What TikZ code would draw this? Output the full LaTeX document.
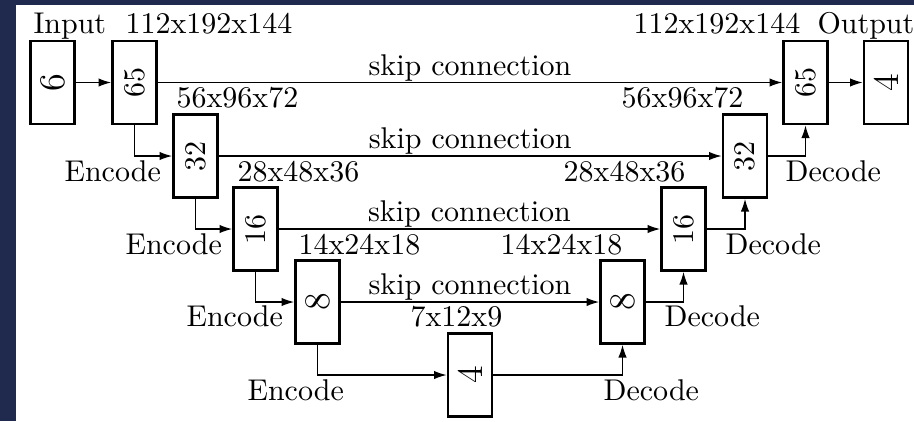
\documentclass[tikz,border=0pt]{standalone}
\usepackage{graphicx}
\usetikzlibrary{arrows.meta}
\definecolor{framebg}{HTML}{1F2A4E}
\begin{document}
\begin{tikzpicture}[x=0.33333pt,y=-0.33333pt,
  blk/.style={draw,line width=0.9pt,minimum width=14.7pt,minimum height=27.7pt,inner sep=0pt,fill=white},
  conn/.style={line width=0.4pt,-{Latex[length=4.2pt,width=2.8pt]}},
  lab/.style={inner sep=0pt,anchor=base west},
  labr/.style={inner sep=0pt,anchor=base east},
  skiplab/.style={inner sep=0pt,anchor=base,yshift=2.5pt}]
% page frame
\fill[framebg] (0,0) rectangle (914,421);
\fill[white] (16,4.5) rectangle (914,421);
\useasboundingbox (0,0) rectangle (914,421);

% encoder / decoder blocks (channel counts, set sideways)
\node[blk] (in)  at (52.5,82.5) {\rotatebox{90}{\large 6}};
\node[blk] (e1)  at (134.5,82.5) {\rotatebox{90}{65}};
\node[blk] (e2)  at (195.5,156) {\rotatebox{90}{32}};
\node[blk] (e3)  at (255.5,229) {\rotatebox{90}{16}};
\node[blk] (e4)  at (317.5,302) {\rotatebox{90}{\large 8}};
\node[blk] (b)   at (470,375)   {\rotatebox{90}{\large 4}};
\node[blk] (d4)  at (622.5,302) {\rotatebox{90}{\large 8}};
\node[blk] (d3)  at (683.5,229) {\rotatebox{90}{16}};
\node[blk] (d2)  at (745,156)   {\rotatebox{90}{32}};
\node[blk] (d1)  at (805.5,82.5) {\rotatebox{90}{65}};
\node[blk] (out) at (886,82.5)  {\rotatebox{90}{\large 4}};

% sizes and stage labels
\node[lab]  (lin)  at (33,33)   {Input};
\node[lab]  (le1)  at (125,33)  {112x192x144};
\node[lab]  (ld1)  at (633,33)  {112x192x144};
\node[lab]  (lout) at (817,33)  {Output};
\node[lab]  (le2)  at (176,107) {56x96x72};
\node[labr] (ld2)  at (744,107) {56x96x72};
\node[lab]  (enc1) at (64,181)  {Encode};
\node[lab]  (le3)  at (237,181) {28x48x36};
\node[labr] (ld3)  at (686,181) {28x48x36};
\node[lab]  (dec1) at (785,181) {Decode};
\node[lab]  (enc2) at (125,254) {Encode};
\node[lab]  (le4)  at (298,254) {14x24x18};
\node[labr] (ld4)  at (623,254) {14x24x18};
\node[lab]  (dec2) at (725,254) {Decode};
\node[lab]  (enc3) at (186,326) {Encode};
\node[lab]  (lb)   at (410,326) {7x12x9};
\node[lab]  (dec3) at (664,326) {Decode};
\node[lab]  (enc4) at (247,400) {Encode};
\node[lab]  (dec4) at (603,400) {Decode};

% data flow
\draw[conn] (in) -- (e1);
\draw[conn] (e1.south) |- (e2.west);
\draw[conn] (e2.south) |- (e3.west);
\draw[conn] (e3.south) |- (e4.west);
\draw[conn] (e4.south) |- (b.west);
\draw[conn] (b.east) -| (d4.south);
\draw[conn] (d4.east) -| (d3.south);
\draw[conn] (d3.east) -| (d2.south);
\draw[conn] (d2.east) -| (d1.south);
\draw[conn] (d1) -- (out);

% skip connections
\draw[conn] (e1) -- node[skiplab] {skip connection} (d1);
\draw[conn] (e2) -- node[skiplab] {skip connection} (d2);
\draw[conn] (e3) -- node[skiplab] {skip connection} (d3);
\draw[conn] (e4) -- node[skiplab] {skip connection} (d4);
\end{tikzpicture}
\end{document}
